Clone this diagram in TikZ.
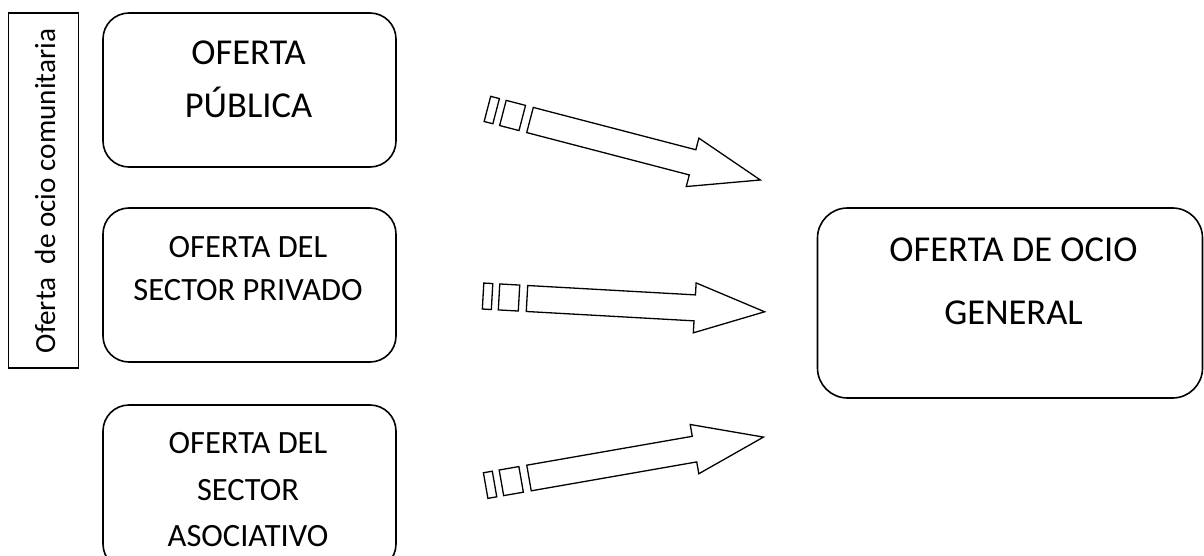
\documentclass[tikz,border=0pt]{standalone}
\usepackage{fontspec}
\setmainfont{Carlito}
\tikzset{
  obox/.style={draw, rounded corners=26pt, line width=1.6pt, inner sep=0pt},
  bigtxt/.style={font=\fontsize{36.5}{40}\selectfont, anchor=base, inner sep=0pt},
  midtxt/.style={font=\fontsize{32.5}{36}\selectfont, anchor=base, inner sep=0pt},
  arrowline/.style={draw, line width=1.3pt, line join=miter, fill=white},
  stripearrow/.pic={
    \draw[arrowline] (-44pt,-13pt) rectangle (-35pt,13pt);
    \draw[arrowline] (-28pt,-13pt) rectangle (-8pt,13pt);
    \draw[arrowline] (0pt,-13pt) -- (168pt,-13pt) -- (168pt,-25pt) -- (238pt,0pt)
      -- (168pt,25pt) -- (168pt,13pt) -- (0pt,13pt) -- cycle;
  }
}
\begin{document}
\begin{tikzpicture}[x=1pt,y=-1pt]
\useasboundingbox (0,0) rectangle (1204,556);
\clip (0,0) rectangle (1204,556);
% vertical label box
\node[draw, line width=1.3pt, minimum width=70pt, minimum height=355pt, inner sep=0pt] (com) at (43.5,190.5) {};
\node[rotate=90, anchor=base, inner sep=0pt, font=\fontsize{29.2}{32}\selectfont] (comtxt) at (55,191) {Oferta\ \ de ocio comunitaria};
% left boxes
\node[obox, minimum width=293pt, minimum height=154pt] (pub) at (249.5,90) {};
\node[bigtxt] (pub1) at (248.5,65) {OFERTA};
\node[bigtxt] (pub2) at (248.5,118) {PÚBLICA};
\node[obox, minimum width=293pt, minimum height=154pt] (priv) at (249.5,285) {};
\node[midtxt] (priv1) at (248,257) {OFERTA DEL};
\node[midtxt] (priv2) at (248,300) {SECTOR PRIVADO};
\node[obox, minimum width=293pt, minimum height=165pt] (aso) at (249.5,487.5) {};
\node[midtxt] (aso1) at (248,453) {OFERTA DEL};
\node[midtxt] (aso2) at (248,500) {SECTOR};
\node[midtxt] (aso3) at (248,546) {ASOCIATIVO};
% right box
\node[obox, rounded corners=30pt, minimum width=385pt, minimum height=190pt] (gen) at (1010,303) {};
\node[bigtxt] (gen1) at (1013.5,261) {OFERTA DE OCIO};
\node[bigtxt] (gen2) at (1013.5,324) {GENERAL};
% arrows
\coordinate (a1) at (530,120);
\coordinate (a2) at (527,298.5);
\coordinate (a3) at (529,478);
\pic[rotate=-14.6] at (a1) {stripearrow};
\pic[rotate=-3.2] at (a2) {stripearrow};
\pic[rotate=9.9] at (a3) {stripearrow};
\end{tikzpicture}
\end{document}
